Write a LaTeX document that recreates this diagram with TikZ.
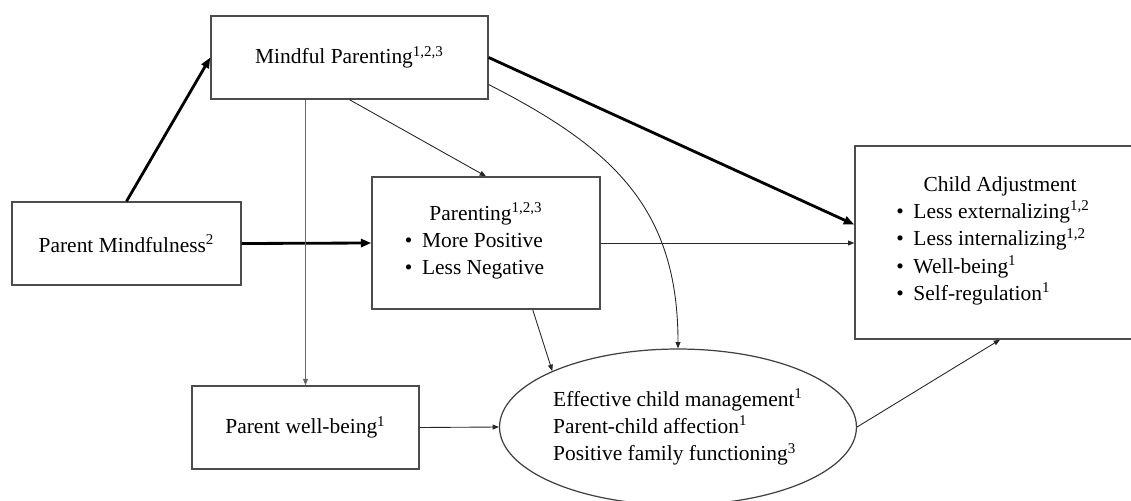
\documentclass[tikz,border=0pt]{standalone}
\usepackage{fontspec}
\setmainfont{Liberation Serif}
\usetikzlibrary{positioning,arrows.meta,shapes.geometric}

\begin{document}
\begin{tikzpicture}[x=0.02cm,y=-0.02cm,>={Triangle[length=3.6pt,width=2.8pt]},
  every node/.style={font=\fontsize{12.2}{15.5}\selectfont},
  box/.style={draw=black!70,line width=0.8pt,inner sep=2pt},
  boldarrow/.style={->,line width=1.6pt,>={Triangle[length=6pt,width=4.6pt]}},
  thinarrow/.style={->,line width=0.5pt,draw=black!85}]
  \useasboundingbox (0,0) rectangle (1131,500);
  % boxes at pixel positions of the figure
  \node[box,minimum width=5.54cm,minimum height=1.66cm] (mp) at (349.5,57.5) {Mindful Parenting\textsuperscript{1,2,3}};
  \node[box,minimum width=4.58cm,minimum height=1.66cm] (pm) at (126.5,243.5) {Parent Mindfulness\textsuperscript{2}};
  \node[box,minimum width=4.56cm,minimum height=2.64cm,align=center] (par) at (486,243)
    {Parenting\textsuperscript{1,2,3}\\ \begin{tabular}[t]{@{}l@{}}\textbullet\hspace{0.45em}More Positive\\ \textbullet\hspace{0.45em}Less Negative\end{tabular}\hspace*{0.46cm}};
  \node[box,minimum width=5.8cm,minimum height=3.86cm,align=center] (ca) at (1000,242.5)
    {Child Adjustment\\ \begin{tabular}[t]{@{}l@{}}\textbullet\hspace{0.45em}Less externalizing\textsuperscript{1,2}\\ \textbullet\hspace{0.45em}Less internalizing\textsuperscript{1,2}\\ \textbullet\hspace{0.45em}Well-being\textsuperscript{1}\\ \textbullet\hspace{0.45em}Self-regulation\textsuperscript{1}\end{tabular}\hspace*{0.28cm}};
  \node[box,minimum width=4.54cm,minimum height=1.66cm] (pw) at (305.5,427.5) {Parent well-being\textsuperscript{1}};
  \node[draw=black!75,line width=0.7pt,ellipse,inner sep=0pt,minimum width=7.14cm,minimum height=3.12cm,align=left] (eff) at (678,427)
    {Effective child management\textsuperscript{1}\\Parent-child affection\textsuperscript{1}\\Positive family functioning\textsuperscript{3}};

  % paths
  \draw[boldarrow] (pm.north) -- (mp.west);
  \draw[boldarrow] (pm.east) -- (par.west);
  \draw[boldarrow] (mp.east) -- (ca.173);
  \draw[thinarrow] (mp.south) -- (par.north);
  \draw[thinarrow,draw=black!60] (mp.south -| pw.north) -- (pw.north);
  \draw[thinarrow] (mp.-11) to[out=-27,in=90,looseness=1.1] (eff.north);
  \draw[thinarrow] (par.east) -- (par.east -| ca.west);
  \draw[thinarrow] (par.-55) -- (eff.156);
  \draw[thinarrow] (pw.east) -- (eff.west);
  \draw[thinarrow] (eff.east) -- (ca.south);
\end{tikzpicture}
\end{document}
